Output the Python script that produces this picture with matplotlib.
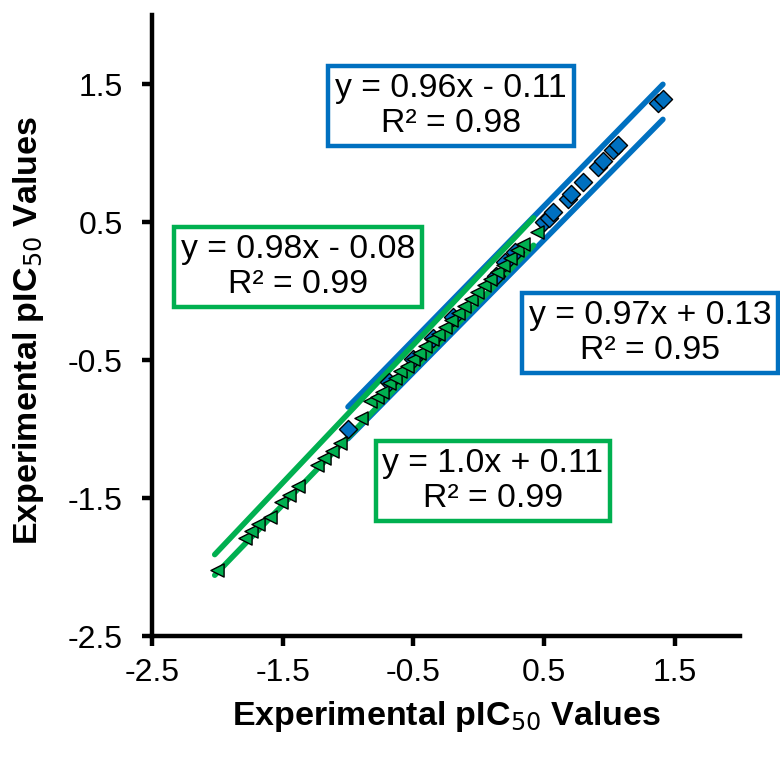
import matplotlib
matplotlib.use("Agg")
import matplotlib.pyplot as plt
import numpy as np

plt.rcParams['font.family'] = ['Liberation Sans', 'DejaVu Sans']

# ---- data ----
tri_x = [-2.00, -1.79, -1.74, -1.69, -1.60, -1.51, -1.45, -1.38, -1.24, -1.18, -1.12,
         -1.06, -0.90, -0.83, -0.78, -0.74, -0.69, -0.64, -0.60, -0.55, -0.50, -0.46,
         -0.41, -0.36, -0.31, -0.26, -0.21, -0.16, -0.11, -0.06, -0.01, 0.04, 0.09,
         0.14, 0.19, 0.24, 0.29, 0.34, 0.45]
tri_y = [-2.02, -1.79, -1.74, -1.69, -1.64, -1.53, -1.48, -1.41, -1.26, -1.21, -1.16,
         -1.10, -0.92, -0.80, -0.77, -0.73, -0.67, -0.63, -0.58, -0.54, -0.49, -0.45,
         -0.40, -0.35, -0.31, -0.26, -0.21, -0.16, -0.11, -0.06, -0.01, 0.04, 0.09,
         0.14, 0.19, 0.24, 0.30, 0.34, 0.43]

dia_x = [-1.00, -0.69, -0.50, -0.35, -0.20, 0.13, 0.20, 0.28, 0.50, 0.54, 0.57,
         0.68, 0.71, 0.80, 0.91, 0.95, 1.03, 1.07, 1.37, 1.41]
dia_y = [-1.00, -0.66, -0.49, -0.34, -0.19, 0.11, 0.21, 0.28, 0.50, 0.53, 0.57,
         0.67, 0.70, 0.79, 0.90, 0.94, 1.02, 1.06, 1.36, 1.39]

# trendlines: (slope, intercept), x range
blue_fits = [(0.97, 0.13), (0.96, -0.11)]
blue_range = (-1.00, 1.41)
green_fits = [(1.00, 0.11), (0.98, -0.08)]
green_range = (-2.02, 0.42)

labels = [
    ("y = 0.96x - 0.11\nR² = 0.98", 'blue', (451, 106)),
    ("y = 0.98x - 0.08\nR² = 0.99", 'green', (298, 267)),
    ("y = 0.97x + 0.13\nR² = 0.95", 'blue', (650, 333)),
    ("y = 1.0x + 0.11\nR² = 0.99", 'green', (493, 481)),
]

xticks = [-2.5, -1.5, -0.5, 0.5, 1.5]
yticks = [-2.5, -1.5, -0.5, 0.5, 1.5]

BLUE = '#0070C0'
GREEN = '#00B050'
cols = {'blue': BLUE, 'green': GREEN}

W, H = 780, 759
fig = plt.figure(figsize=(W / 100, H / 100), dpi=100)
ax = fig.add_axes([152 / W, 1 - 636 / H, (740 - 152) / W, (636 - 15) / H])

for m, b in blue_fits:
    xs = np.array(blue_range)
    ax.plot(xs, m * xs + b, color=BLUE, lw=4.0, solid_capstyle='round', zorder=2)
for m, b in green_fits:
    xs = np.array(green_range)
    ax.plot(xs, m * xs + b, color=GREEN, lw=4.0, solid_capstyle='round', zorder=3)

ax.scatter(dia_x, dia_y, marker='D', s=85, facecolor=BLUE, edgecolor='black', linewidth=1.0, zorder=4)
ax.scatter(tri_x, tri_y, marker='<', s=90, facecolor=GREEN, edgecolor='black', linewidth=1.0, zorder=5)

ax.set_xlim(-2.5, 2.0)
ax.set_ylim(-2.5, 2.0)
ax.set_xticks(xticks)
ax.set_yticks(yticks)
ax.set_xticklabels([f"{t:g}" for t in xticks])
ax.set_yticklabels([f"{t:g}" for t in yticks])
for s in ['top', 'right']:
    ax.spines[s].set_visible(False)
for s in ['left', 'bottom']:
    ax.spines[s].set_linewidth(3.2)
ax.tick_params(axis='both', direction='out', length=7, width=3.2, labelsize=23)
ax.tick_params(axis='x', pad=9)
ax.tick_params(axis='y', pad=14)

ax.set_xlabel("Experimental pIC$_{50}$ Values", fontsize=24.5, fontweight='bold', labelpad=8)
ax.set_ylabel("Experimental pIC$_{50}$ Values", fontsize=24.5, fontweight='bold')
ax.yaxis.set_label_coords(-0.18, 0.492)

for txt, c, (px, py) in labels:
    fig.text(px / W, 1 - py / H, txt, ha='center', va='center', multialignment='center',
             fontsize=24.3, linespacing=1.15, zorder=10,
             bbox=dict(boxstyle='square,pad=0.2', facecolor='white', edgecolor=cols[c], linewidth=3.2))

fig.savefig('out.png', dpi=100)
